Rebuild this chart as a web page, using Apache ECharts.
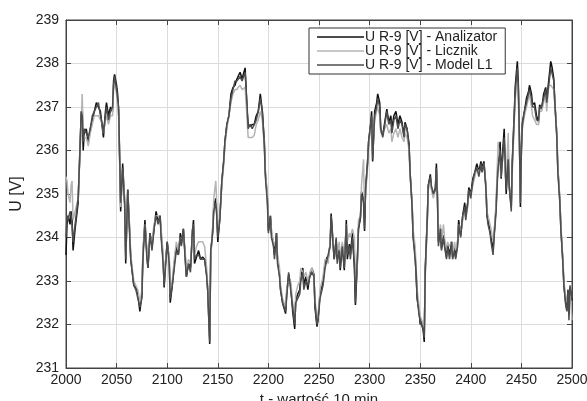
<!DOCTYPE html>
<html>
<head>
<meta charset="utf-8">
<script src="https://cdn.jsdelivr.net/npm/echarts@6/dist/echarts.min.js"></script>
<style>
  html, body { margin: 0; padding: 0; background: #fff; }
  #chart { width: 587px; height: 401px; }
</style>
</head>
<body>
<div id="chart"></div>
<script>
// t - sample number (10 min)
const t = [
  2000, 2001, 2002, 2004, 2005, 2006, 2007, 2009, 2012, 2014, 2015, 2016, 2017, 2018, 2020, 2022, 2024, 2026, 2028, 2030,
  2032, 2034, 2036, 2037, 2039, 2040, 2042, 2044, 2046, 2047, 2048, 2050, 2051, 2052, 2053, 2054, 2056, 2058, 2059, 2061,
  2063, 2064, 2067, 2069, 2071, 2073, 2075, 2076, 2078, 2080, 2081, 2083, 2085, 2087, 2089, 2091, 2093, 2094, 2096, 2097,
  2098, 2100, 2102, 2103, 2105, 2107, 2109, 2111, 2113, 2114, 2116, 2118, 2119, 2121, 2123, 2125, 2126, 2127, 2129, 2131,
  2133, 2135, 2137, 2139, 2140, 2142, 2143, 2145, 2146, 2148, 2149, 2150, 2152, 2154, 2156, 2157, 2159, 2161, 2163, 2165,
  2167, 2169, 2170, 2172, 2174, 2177, 2179, 2180, 2182, 2184, 2186, 2188, 2190, 2192, 2194, 2196, 2197, 2199, 2200, 2202,
  2203, 2205, 2206, 2208, 2209, 2211, 2212, 2214, 2217, 2218, 2220, 2222, 2224, 2226, 2227, 2229, 2231, 2232, 2234, 2235,
  2237, 2239, 2241, 2243, 2245, 2246, 2248, 2249, 2251, 2254, 2256, 2258, 2259, 2261, 2262, 2264, 2265, 2267, 2268, 2270,
  2271, 2273, 2275, 2277, 2278, 2280, 2281, 2283, 2285, 2286, 2288, 2289, 2291, 2292, 2294, 2295, 2296, 2298, 2299, 2301,
  2302, 2303, 2305, 2307, 2308, 2310, 2311, 2313, 2315, 2317, 2319, 2321, 2322, 2324, 2326, 2328, 2330, 2332, 2334, 2335,
  2337, 2339, 2340, 2342, 2343, 2345, 2346, 2347, 2349, 2350, 2351, 2353, 2354, 2355, 2357, 2358, 2360, 2361, 2363, 2365,
  2366, 2367, 2368, 2370, 2371, 2373, 2374, 2376, 2377, 2379, 2381, 2382, 2384, 2385, 2387, 2388, 2390, 2392, 2394, 2395,
  2397, 2398, 2400, 2402, 2404, 2406, 2408, 2410, 2411, 2413, 2415, 2416, 2417, 2419, 2420, 2422, 2423, 2425, 2426, 2427,
  2429, 2430, 2431, 2433, 2434, 2435, 2437, 2438, 2440, 2441, 2443, 2444, 2446, 2447, 2448, 2449, 2450, 2451, 2453, 2455,
  2457, 2458, 2460, 2461, 2463, 2465, 2467, 2468, 2470, 2472, 2474, 2475, 2477, 2479, 2480, 2482, 2483, 2485, 2486, 2488,
  2489, 2491, 2492, 2494, 2495, 2496, 2497, 2498, 2500
];

// U R-9 [V] - Analizator
const analizator = [
  233.6, 234.3, 234.5, 234.3, 234.6, 234.4, 233.7, 234.2, 234.8, 236.2, 236.8, 237.0, 236.0, 236.4, 236.5, 236.2, 236.5, 236.7, 236.9, 237.1,
  237.0, 236.9, 236.5, 236.3, 236.9, 237.1, 236.8, 237.0, 236.9, 237.6, 237.75, 237.5, 237.3, 236.9, 235.8, 234.6, 235.7, 234.8, 233.4, 235.1,
  234.1, 233.5, 232.9, 232.85, 232.7, 232.3, 232.7, 233.6, 234.4, 233.6, 233.3, 234.1, 233.8, 234.2, 234.6, 234.4, 234.5, 234.1, 233.5, 232.85,
  233.3, 233.9, 233.5, 232.5, 232.9, 233.4, 233.8, 233.6, 234.1, 233.85, 234.2, 233.5, 233.1, 233.4, 233.3, 234.15, 234.4, 233.4, 233.55, 233.7,
  233.5, 233.55, 233.5, 233.15, 232.8, 231.55, 233.6, 234.2, 234.7, 234.9, 234.55, 233.9, 234.45, 235.3, 235.8, 236.2, 236.6, 236.8, 237.3, 237.45,
  237.5, 237.65, 237.7, 237.8, 237.65, 237.9, 236.9, 236.6, 236.55, 236.6, 236.6, 236.8, 236.9, 237.3, 236.9, 236.2, 235.5, 234.9, 234.15, 234.5,
  234.1, 233.85, 233.6, 234.1, 233.5, 233.15, 232.8, 232.5, 232.25, 232.7, 233.15, 232.9, 232.3, 231.9, 232.55, 232.7, 232.8, 233.1, 233.3, 232.9,
  233.1, 232.8, 233.15, 233.3, 233.15, 232.4, 231.95, 232.1, 232.7, 233.0, 233.4, 233.55, 233.5, 233.85, 234.55, 233.85, 233.5, 233.95, 233.5, 233.8,
  233.25, 233.85, 233.25, 234.4, 233.5, 233.85, 233.6, 234.1, 233.3, 232.45, 233.5, 234.2, 234.45, 235.05, 234.9, 234.15, 235.1, 235.75, 236.2, 236.6,
  236.9, 235.75, 236.9, 237.1, 237.3, 237.1, 236.5, 236.35, 236.65, 236.95, 236.65, 236.8, 236.5, 236.8, 236.9, 236.6, 236.8, 236.65, 236.35, 236.65,
  236.5, 236.15, 235.5, 234.75, 234.05, 233.6, 233.1, 232.6, 232.3, 232.0, 232.1, 231.85, 231.6, 233.3, 234.45, 235.2, 235.45, 235.15, 235.0, 235.15,
  235.7, 235.0, 233.9, 234.2, 233.75, 234.05, 233.85, 233.55, 233.85, 233.6, 233.9, 233.55, 233.8, 233.55, 233.9, 234.4, 234.05, 234.5, 234.8, 234.5,
  234.8, 235.15, 235.0, 235.35, 235.5, 235.7, 235.5, 235.75, 235.6, 235.75, 235.15, 234.5, 234.4, 234.15, 234.0, 233.7, 234.05, 234.7, 235.3, 235.75,
  236.2, 235.35, 235.8, 236.5, 235.6, 235.0, 235.95, 235.15, 234.7, 235.75, 236.9, 237.5, 238.05, 237.5, 236.35, 234.7, 236.05, 236.65, 236.9, 237.2,
  237.35, 237.5, 237.3, 237.05, 237.1, 236.8, 236.65, 237.05, 236.95, 237.3, 237.45, 237.2, 237.6, 238.05, 237.95, 237.65, 237.15, 236.35, 235.6, 234.85,
  234.2, 233.45, 232.9, 232.45, 232.4, 232.8, 232.25, 232.85, 232.55
];

// U R-9 [V] - Licznik
const licznik = [
  235.4, 235.3, 235.0, 234.8, 235.2, 235.3, 234.4, 234.6, 234.9, 236.0, 236.6, 237.3, 236.4, 236.3, 236.3, 236.1, 236.4, 236.6, 236.8, 236.8,
  236.8, 236.7, 236.6, 236.4, 236.7, 236.8, 236.6, 236.8, 236.8, 237.4, 237.6, 237.3, 237.0, 236.8, 235.9, 234.7, 235.5, 234.9, 233.6, 235.0,
  234.2, 233.6, 233.0, 232.9, 232.8, 232.5, 232.8, 233.7, 234.3, 233.7, 233.4, 234.0, 233.9, 234.3, 234.5, 234.5, 234.4, 234.2, 233.6, 233.0,
  233.4, 233.8, 233.6, 232.7, 233.0, 233.5, 233.9, 233.7, 234.0, 233.9, 234.1, 233.6, 233.2, 233.5, 233.4, 234.0, 234.3, 233.6, 233.8, 233.9,
  233.9, 233.9, 233.8, 233.3, 232.9, 231.8, 233.5, 234.3, 234.9, 235.3, 234.8, 234.1, 234.5, 235.2, 235.7, 236.1, 236.5, 236.8, 237.1, 237.3,
  237.4, 237.4, 237.45, 237.5, 237.4, 237.45, 236.7, 236.3, 236.3, 236.3, 236.35, 236.6, 236.7, 236.9, 236.7, 236.1, 235.5, 235.0, 234.3, 234.4,
  234.2, 233.9, 233.8, 234.0, 233.6, 233.3, 232.9, 232.6, 232.4, 232.8, 233.0, 233.0, 232.5, 232.1, 232.7, 232.9, 233.0, 233.3, 233.2, 233.1,
  233.2, 233.0, 233.2, 233.3, 233.1, 232.6, 232.1, 232.2, 232.8, 233.1, 233.5, 233.5, 233.4, 233.9, 234.3, 233.9, 233.6, 233.9, 233.6, 233.9,
  233.5, 233.9, 233.4, 234.3, 233.9, 234.1, 234.0, 234.2, 234.0, 232.9, 233.4, 234.4, 234.5, 235.2, 235.8, 234.6, 235.0, 235.6, 236.1, 236.5,
  236.6, 236.0, 236.7, 236.9, 237.0, 236.8, 236.4, 236.4, 236.5, 236.6, 236.4, 236.5, 236.2, 236.4, 236.5, 236.3, 236.5, 236.3, 236.2, 236.4,
  236.3, 236.0, 235.4, 234.8, 234.2, 233.8, 233.3, 232.8, 232.4, 232.2, 232.2, 232.0, 231.9, 233.1, 234.3, 235.1, 235.3, 235.1, 234.9, 235.1,
  235.5, 235.1, 234.0, 234.3, 233.9, 234.3, 234.0, 233.7, 233.9, 233.8, 233.9, 233.6, 233.9, 233.7, 233.9, 234.3, 234.1, 234.4, 234.6, 234.5,
  234.7, 235.0, 235.0, 235.2, 235.4, 235.6, 235.5, 235.6, 235.5, 235.7, 235.2, 234.6, 234.5, 234.3, 234.2, 233.9, 234.1, 234.8, 235.5, 236.2,
  235.6, 235.4, 235.7, 236.1, 235.4, 235.3, 236.4, 235.2, 234.8, 235.5, 236.7, 237.2, 237.6, 237.2, 236.3, 234.8, 236.0, 236.5, 236.8, 237.0,
  237.2, 237.3, 237.0, 236.8, 236.7, 236.6, 236.6, 236.9, 236.9, 237.1, 237.3, 236.9, 237.5, 237.5, 237.5, 237.4, 237.1, 236.4, 235.6, 234.9,
  234.3, 233.5, 233.0, 232.6, 232.5, 232.7, 232.3, 232.8, 232.1
];

// U R-9 [V] - Model L1
const modelL1 = [
  234.0, 234.5, 234.4, 234.6, 234.5, 234.3, 233.9, 234.3, 234.9, 236.1, 236.9, 236.8, 236.2, 236.5, 236.4, 236.3, 236.5, 236.8, 236.9, 237.0,
  237.1, 236.8, 236.6, 236.4, 236.8, 237.0, 236.7, 236.9, 237.0, 237.5, 237.7, 237.4, 237.2, 237.0, 235.9, 234.8, 235.6, 234.7, 233.5, 235.1,
  234.0, 233.5, 232.9, 232.8, 232.6, 232.4, 232.6, 233.5, 234.3, 233.5, 233.3, 234.1, 233.7, 234.2, 234.5, 234.3, 234.5, 234.0, 233.4, 232.9,
  233.2, 233.9, 233.4, 232.6, 232.9, 233.3, 233.7, 233.6, 234.0, 233.8, 234.2, 233.4, 233.1, 233.4, 233.2, 234.2, 234.3, 233.5, 233.6, 233.6,
  233.5, 233.5, 233.5, 233.1, 232.8, 231.6, 233.7, 234.1, 234.6, 234.8, 234.5, 234.0, 234.4, 235.3, 235.8, 236.2, 236.6, 236.8, 237.2, 237.4,
  237.6, 237.6, 237.6, 237.7, 237.6, 237.8, 237.0, 236.5, 236.6, 236.5, 236.6, 236.7, 236.9, 237.2, 236.9, 236.1, 235.4, 234.8, 234.1, 234.5,
  234.0, 233.8, 233.5, 234.1, 233.4, 233.1, 232.8, 232.5, 232.3, 232.6, 233.2, 232.8, 232.4, 232.0, 232.5, 232.6, 232.7, 233.0, 233.2, 232.8,
  233.0, 232.9, 233.1, 233.2, 233.1, 232.5, 232.0, 232.1, 232.6, 232.9, 233.3, 233.5, 233.5, 233.8, 234.5, 233.8, 233.5, 234.0, 233.4, 233.7,
  233.3, 233.8, 233.3, 234.3, 233.6, 233.8, 233.5, 234.0, 233.4, 232.5, 233.6, 234.2, 234.5, 235.0, 234.8, 234.2, 235.1, 235.7, 236.2, 236.6,
  236.8, 235.8, 236.8, 237.0, 237.2, 237.0, 236.5, 236.3, 236.6, 236.9, 236.6, 236.7, 236.4, 236.7, 236.8, 236.5, 236.7, 236.6, 236.3, 236.6,
  236.5, 236.1, 235.5, 234.7, 234.0, 233.5, 233.2, 232.6, 232.2, 232.1, 232.0, 231.9, 231.7, 233.2, 234.4, 235.2, 235.4, 235.2, 235.0, 235.1,
  235.6, 234.9, 233.8, 234.2, 233.7, 234.0, 233.8, 233.5, 233.8, 233.5, 233.9, 233.5, 233.7, 233.5, 233.8, 234.3, 234.0, 234.5, 234.7, 234.4,
  234.8, 235.1, 234.9, 235.3, 235.5, 235.6, 235.4, 235.7, 235.5, 235.7, 235.1, 234.5, 234.3, 234.1, 233.9, 233.6, 234.0, 234.6, 235.2, 235.6,
  236.0, 235.4, 235.7, 236.3, 235.7, 235.1, 235.8, 235.2, 234.6, 235.7, 236.8, 237.4, 237.9, 237.4, 236.3, 234.8, 236.0, 236.6, 236.9, 237.1,
  237.3, 237.4, 237.2, 237.0, 237.0, 236.7, 236.7, 237.0, 237.0, 237.2, 237.4, 237.1, 237.5, 237.9, 237.8, 237.6, 237.1, 236.3, 235.5, 234.8,
  234.2, 233.4, 232.9, 232.4, 232.3, 232.8, 232.1, 232.9, 232.6
];

const seriesNames = ['U R-9 [V] - Analizator', 'U R-9 [V] - Licznik', 'U R-9 [V] - Model L1'];
const seriesColors = ['#111111', '#b4b4b4', '#4d4d4d'];
const seriesValues = [analizator, licznik, modelL1];

let chart = echarts.init(document.getElementById('chart'));

let font = 'Liberation Sans, Arial, sans-serif';

let option = {
    animation: false,
    backgroundColor: '#ffffff',
    grid: {
        left: 66,
        right: 15,
        top: 20,
        bottom: 33,
        outerBoundsMode: 'none',
        containLabel: false,
        show: true,
        borderColor: '#444',
        borderWidth: 1
    },
    legend: {
        orient: 'vertical',
        left: 309,
        top: 28,
        data: seriesNames,
        icon: 'rect',
        itemWidth: 47,
        itemHeight: 1.3,
        itemGap: 0,
        padding: [2, 8, 2, 8],
        borderColor: '#333',
        borderWidth: 1,
        backgroundColor: '#fff',
        textStyle: { fontFamily: font, fontSize: 14, color: '#222', lineHeight: 14, padding: [0, 0, 0, -4] }
    },
    xAxis: [
        {
            type: 'value',
            min: 2000,
            max: 2500,
            interval: 50,
            name: 't - wartość 10 min',
            nameLocation: 'middle',
            nameGap: 16,
            nameTextStyle: { fontFamily: font, fontSize: 15, color: '#222' },
            axisLine: { onZero: false, lineStyle: { color: '#444' } },
            axisTick: { inside: true, length: 5, lineStyle: { color: '#444' } },
            axisLabel: {
                fontFamily: font, fontSize: 14, color: '#222', margin: 5,
                formatter: function (v) { return String(v); }
            },
            splitLine: { show: true, lineStyle: { color: '#dcdcdc', width: 1 } }
        },
        {
            type: 'value',
            position: 'top',
            min: 2000,
            max: 2500,
            interval: 50,
            axisLine: { show: true, lineStyle: { color: '#444' } },
            axisTick: { inside: true, length: 5, lineStyle: { color: '#444' } },
            axisLabel: { show: false },
            splitLine: { show: false }
        }
    ],
    yAxis: [
        {
            type: 'value',
            min: 231,
            max: 239,
            interval: 1,
            name: 'U [V]',
            nameLocation: 'middle',
            nameGap: 36,
            nameTextStyle: { fontFamily: font, fontSize: 16, color: '#222' },
            axisLine: { show: true, lineStyle: { color: '#444' } },
            axisTick: { show: true, inside: true, length: 5, lineStyle: { color: '#444' } },
            axisLabel: { fontFamily: font, fontSize: 14, color: '#222', margin: 7 },
            splitLine: { show: true, lineStyle: { color: '#dcdcdc', width: 1 } }
        },
        {
            type: 'value',
            position: 'right',
            min: 231,
            max: 239,
            interval: 1,
            axisLine: { show: true, lineStyle: { color: '#444' } },
            axisTick: { show: true, inside: true, length: 5, lineStyle: { color: '#444' } },
            axisLabel: { show: false },
            splitLine: { show: false }
        }
    ],
    series: seriesValues.map(function (vals, i) {
        return {
            name: seriesNames[i],
            type: 'line',
            xAxisIndex: 0,
            yAxisIndex: 0,
            symbol: 'none',
            color: seriesColors[i],
            lineStyle: { color: seriesColors[i], width: 1.5 },
            data: t.map(function (x, k) { return [x, vals[k]]; })
        };
    })
};

chart.setOption(option);
</script>
</body>
</html>
